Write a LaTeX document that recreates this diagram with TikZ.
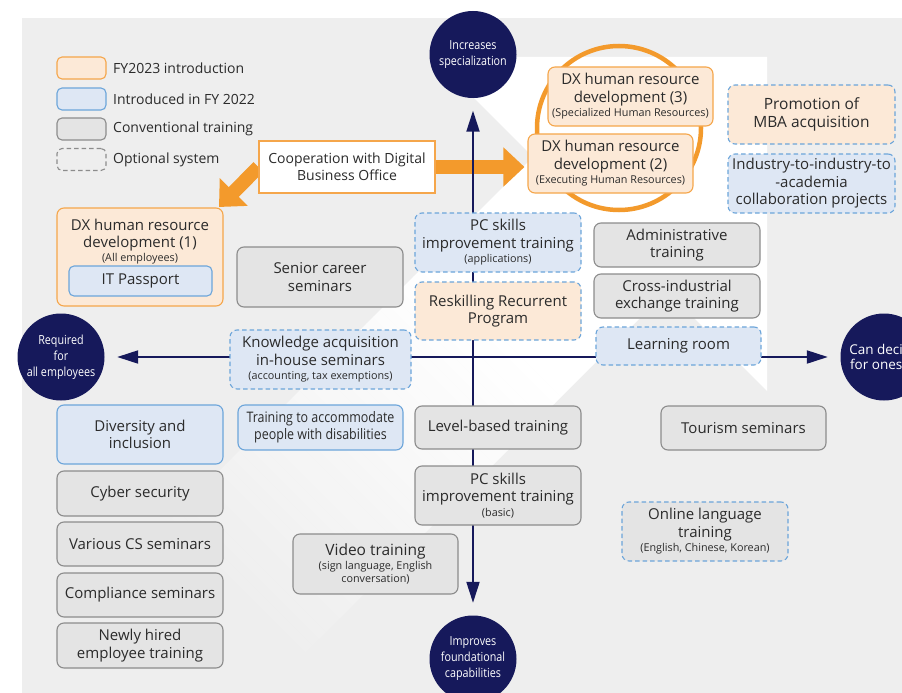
\documentclass[tikz,border=0pt]{standalone}
\usepackage{fontspec}
\setmainfont{Open Sans}
\newfontfamily\narrowfont[FakeStretch=0.86]{Open Sans}
\usetikzlibrary{arrows.meta, backgrounds}
\definecolor{bgcol}     {RGB}{238, 238, 238}
\definecolor{navy}      {RGB}{22,  25,  91}
\definecolor{orangeA}   {RGB}{243, 154, 44}
\definecolor{orangeline}{RGB}{245, 166, 75}
\definecolor{peach}     {RGB}{252, 233, 215}
\definecolor{blueline}  {RGB}{108, 165, 218}
\definecolor{bluefill}  {RGB}{222, 231, 244}
\definecolor{grayline}  {RGB}{140, 140, 140}
\definecolor{grayfill}  {RGB}{228, 228, 228}
\definecolor{ink}       {RGB}{43,  43,  43}

\newcommand\boxfont{\fontsize{15}{17.5}\selectfont}
\newcommand\notefont{\fontsize{10.8}{13}\selectfont}
\newcommand\keyfont{\fontsize{14}{17}\selectfont}
\newcommand\polefont{\narrowfont\fontsize{12.5}{16}\selectfont}

\tikzset{
  box/.style={rounded corners=7pt, line width=1.1pt, align=center, text=ink,
    inner sep=2pt, minimum width=166pt, font=\boxfont},
  conv/.style={box, draw=grayline, fill=grayfill},
  fy22/.style={box, draw=blueline, fill=bluefill},
  fy23/.style={box, draw=orangeline, fill=peach},
  opt/.style={dash pattern=on 4.5pt off 3pt},
  keybox/.style={rounded corners=5pt, line width=1.1pt, minimum width=49pt, minimum height=22pt},
  keytext/.style={anchor=west, font=\keyfont, text=ink, inner sep=0pt},
  pole/.style={circle, fill=navy, text=white, minimum size=87pt, inner sep=0pt,
    align=center, font=\polefont},
  axis/.style={navy, line width=2pt,
    {Triangle[length=21pt,width=13pt]}-{Triangle[length=21pt,width=13pt]},
    shorten <=12.5pt, shorten >=12.5pt},
  push/.style={orangeA, line width=14pt, -{Triangle[length=21pt,width=38pt]}},
}

\begin{document}
\begin{tikzpicture}[x=1pt, y=-1pt]
  \useasboundingbox (0,0) rectangle (902,693);

  % grey panel with the faded white arrow behind everything
  \begin{scope}[on background layer]
    \fill[bgcol] (22,18) rectangle (902,693);
    \clip (22,18) rectangle (902,693);
    \begin{scope}[shift={(600,224)}, rotate=45]
      \fill[white] (0,-236.2) -- (236.2,0) -- (0,236.2) -- cycle;
      \fill[white] (-150,-94.75) rectangle (0.5,94.75);
      \foreach \i in {0,...,39} {
        \pgfmathtruncatemacro\pct{100*\i/39}
        \fill[white!\pct!bgcol] ({-530+\i*9.5},-94.75) rectangle ({-530+(\i+1)*9.5+0.4},94.75);
      }
    \end{scope}
  \end{scope}

  % legend
  \node[keybox, draw=orangeline, fill=peach] (key23) at (81.5,68) {};
  \node[keybox, draw=blueline, fill=bluefill] (key22) at (81.5,99) {};
  \node[keybox, draw=grayline, fill=grayfill] (keyconv) at (81.5,129) {};
  \node[keybox, draw=grayline, opt] (keyopt) at (81.5,159.5) {};
  \node[keytext] (key23l) at (113,68) {FY2023 introduction};
  \node[keytext] (key22l) at (113,99) {Introduced in FY 2022};
  \node[keytext] (keyconvl) at (113,129) {Conventional training};
  \node[keytext] (keyoptl) at (113,159.5) {Optional system};

  % the two axes
  \node[pole] (spec) at (473,54.5) {Increases\\specialization};
  \node[pole] (allemp) at (61,357) {Required\\for\\all employees};
  \node[pole, font=\fontsize{13.5}{15.5}\selectfont] (self) at (884,357) {Can decide\\for oneself};
  \node[pole] (found) at (473,659) {Improves\\foundational\\capabilities};
  \draw[axis] (found) -- (spec);
  \draw[axis] (allemp) -- (self);

  \draw[orangeA, line width=4.5pt] (619,128) circle[radius=82pt];

  \node[draw=orangeline, fill=white, line width=1.1pt, minimum width=176pt, minimum height=52pt,
    align=center, font=\keyfont, text=ink] (coop) at (347,167) {Cooperation with Digital\\Business Office};

  \node[fy23, minimum width=165pt, minimum height=59pt] (dxthree) at (630.5,96.5)
    {DX human resource\\development (3)\\[-3pt]{\notefont (Specialized Human Resources)}};
  \node[fy23, minimum width=165pt, minimum height=59pt] (dxtwo) at (610.5,163.5)
    {DX human resource\\development (2)\\[-3pt]{\notefont (Executing Human Resources)}};
  \node[fy23, draw=blueline, opt, minimum width=167pt, minimum height=59pt,
    font=\fontsize{15.5}{17.5}\selectfont] (mba) at (811.5,114.5) {Promotion of\\MBA acquisition};
  \node[fy22, opt, minimum width=167pt, minimum height=59pt] (academia) at (811.5,183.5)
    {Industry-to-industry-to\\-academia\\collaboration projects};

  \node[fy23, minimum height=98pt] (dxone) at (140,257) {};
  \node[anchor=north, align=center, font=\boxfont, text=ink, inner sep=0pt, yshift=-11pt] (dxonetext)
    at (dxone.north) {DX human resource\\development (1)\\[-4pt]{\notefont (All employees)}};
  \node[fy22, minimum width=143pt, minimum height=30pt, rounded corners=5pt] (itpass) at (140.5,281) {IT Passport};

  \node[conv, minimum height=60pt] (senior) at (320,277) {Senior career\\seminars};
  \node[fy22, opt, minimum height=59pt] (pcapps) at (498,242.5)
    {PC skills\\improvement training\\[-3pt]{\notefont (applications)}};
  \node[fy23, draw=blueline, opt, minimum height=58pt] (reskill) at (498,311) {Reskilling Recurrent\\Program};
  \node[conv, minimum height=44pt] (admin) at (677,245) {Administrative\\training};
  \node[conv, minimum height=44pt] (cross) at (677,296) {Cross-industrial\\exchange training};
  \node[fy22, opt, minimum width=165pt, minimum height=38pt] (room) at (678.5,346) {Learning room};
  \node[fy22, opt, minimum width=181pt, minimum height=59pt] (knowhow) at (320.5,359.5)
    {Knowledge acquisition\\in-house seminars\\[-3pt]{\notefont (accounting, tax exemptions)}};

  \node[fy22, minimum height=59pt] (diversity) at (140,434.5) {Diversity and\\inclusion};
  \node[conv, minimum height=45pt] (cyber) at (140,493.5) {Cyber security};
  \node[conv, minimum height=44pt] (csem) at (140,544) {Various CS seminars};
  \node[conv, minimum height=44pt] (compliance) at (140,595) {Compliance seminars};
  \node[conv, minimum height=45pt] (newhire) at (140,645.5) {Newly hired\\employee training};

  \node[fy22, minimum width=165pt, minimum height=45pt, font=\narrowfont\fontsize{14.5}{17}\selectfont] (disab)
    at (320.5,427.5) {Training to accommodate\\people with disabilities};
  \node[conv, minimum height=43pt] (level) at (498,427.5) {Level-based training};
  \node[conv, minimum height=59pt] (pcbasic) at (498,495.5)
    {PC skills\\improvement training\\[-3pt]{\notefont (basic)}};
  \node[conv, minimum width=165pt, minimum height=60pt] (video) at (375.5,564)
    {{\fontsize{15.5}{16}\selectfont Video training}\\[-4pt]{\notefont (sign language, English}\\[-4pt]{\notefont conversation)}};
  \node[conv, minimum width=165pt, minimum height=44pt] (tourism) at (743.5,428) {Tourism seminars};
  \node[conv, draw=blueline, opt, minimum height=59pt] (online) at (705,531.5)
    {Online language\\training\\[-3pt]{\notefont (English, Chinese, Korean)}};

  % arrows out of the Digital Business Office
  \coordinate (coopdx) at (219,207);
  \begin{scope}[on background layer]
    \draw[push] (coop.west) -- (coopdx);
    \draw[push, shorten >=3pt] (coop.east) -- (coop.east -| dxtwo.west);
  \end{scope}
\end{tikzpicture}
\end{document}
